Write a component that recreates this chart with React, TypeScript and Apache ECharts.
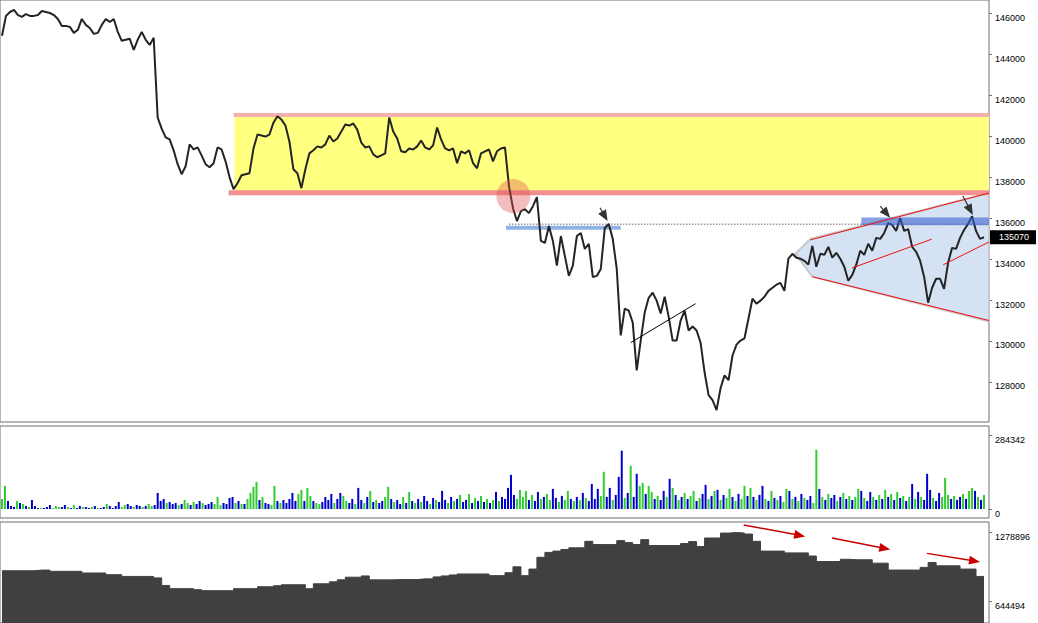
import React, { useEffect, useRef } from "react";
import * as echarts from "echarts";

// ---------- data ----------
const priceTicks = [128000, 130000, 132000, 134000, 136000, 138000, 140000, 142000, 144000, 146000];
const volumeTicks = [0, 284342];
const oiTicks = [644494, 1278896];
const lastPrice = 135070;

// price, one value per bar step (4 px apart in the reference)
const prices = [
  144920, 145890, 146080, 146180, 145930, 145840, 145980, 145890, 145890, 145930,
  146130, 146080, 146030, 145930, 145740, 145400, 145400, 145350, 145060, 145210,
  145740, 145450, 145300, 145010, 145060, 145450, 145740, 145590, 145740, 145110,
  144670, 144720, 144770, 144230, 144720, 145110, 144720, 144470, 144820, 140920,
  140380, 139950, 139850, 139320, 138640, 138150, 138540, 139610, 139360, 139460,
  139070, 138640, 138490, 138690, 139460, 139360, 138780, 138010, 137420, 137710,
  138100, 138150, 138200, 139410, 140090, 140040, 139990, 140090, 140670, 140980,
  140820, 140530, 139750, 138390, 138200, 137470, 138390, 139170, 139320, 139510,
  139460, 139610, 140040, 139750, 139900, 140240, 140580, 140530, 140630, 140330,
  139700, 139460, 139510, 139120, 138980, 139070, 139170, 140920, 140240, 139900,
  139270, 139220, 139410, 139360, 139510, 139800, 139460, 139360, 139560, 140430,
  139850, 139410, 139320, 139410, 138690, 139270, 139170, 139320, 138690, 138440,
  139170, 139270, 139360, 138780, 139270, 139410, 139460, 137570, 136490, 135860,
  136350, 136440, 136250, 136590, 137030, 134890, 134790, 135620, 134890, 133680,
  135130, 134160, 133180, 133680, 135130, 135280, 134500, 134750, 133130, 133180,
  133520, 135520, 135720, 134990, 133520, 130270, 131580, 131480, 130900, 128560,
  130020, 131390, 132110, 132360, 131970, 131340, 132160, 131190, 130020, 130020,
  131000, 131480, 130510, 130710, 130510, 129920, 128470, 127350, 127110, 126620,
  127690, 128320, 128080, 129290, 129820, 130020, 130130, 131100, 132070, 131820,
  131970, 132160, 132450, 132600, 132750, 132840, 132450, 134020, 134260, 134070,
  134020, 133920, 133730, 134650, 133630, 134260, 134210, 134600, 134070, 134310,
  134020, 133630, 132940, 133230, 133730, 134410, 134210, 134750, 134410, 135040,
  134990, 135280, 135760, 135670, 135380, 136010, 135380, 135470, 134600, 134360,
  133920, 133130, 131870, 132600, 133040, 133040, 132550, 133820, 134550, 134500,
  135040, 135420, 135720, 136100, 135380, 134990, 135070,
];

// volume, one value per 3 px in the reference
const volumes = [
  39000, 89700, 31200, 11700, 7800, 31200, 23400, 19500, 11700, 7800,
  35100, 11700, 3900, 3900, 3900, 7800, 15600, 3900, 11700, 7800,
  7800, 15600, 7800, 3900, 15600, 3900, 11700, 7800, 7800, 3900,
  7800, 11700, 3900, 3900, 7800, 19500, 11700, 3900, 11700, 27300,
  7800, 15600, 19500, 11700, 7800, 15600, 11700, 7800, 11700, 19500,
  11700, 15600, 62400, 31200, 39000, 23400, 27300, 19500, 23400, 15600,
  19500, 35100, 23400, 15600, 27300, 19500, 31200, 23400, 15600, 19500,
  27300, 19500, 46800, 15600, 23400, 19500, 42900, 46800, 23400, 31200,
  19500, 19500, 39000, 62400, 85800, 105300, 35100, 46800, 23400, 19500,
  15600, 89700, 31200, 23400, 35100, 23400, 39000, 62400, 31200, 58500,
  74100, 31200, 81900, 50700, 31200, 23400, 19500, 27300, 46800, 35100,
  58500, 23400, 39000, 62400, 50700, 31200, 23400, 39000, 19500, 81900,
  35100, 23400, 46800, 70200, 27300, 35100, 23400, 31200, 46800, 85800,
  39000, 27300, 35100, 19500, 46800, 23400, 66300, 31200, 23400, 39000,
  27300, 50700, 31200, 19500, 42900, 35100, 27300, 70200, 35100, 23400,
  46800, 31200, 39000, 54600, 27300, 35100, 58500, 23400, 42900, 31200,
  50700, 27300, 39000, 23400, 35100, 66300, 31200, 46800, 39000, 81900,
  132600, 54600, 39000, 74100, 46800, 70200, 35100, 54600, 31200, 66300,
  39000, 46800, 58500, 35100, 78000, 42900, 27300, 50700, 35100, 70200,
  39000, 31200, 46800, 35100, 62400, 42900, 31200, 97500, 39000, 78000,
  50700, 144300, 46800, 81900, 35100, 54600, 124800, 226200, 42900, 62400,
  167700, 46800, 136500, 89700, 101400, 58500, 89700, 66300, 39000, 50700,
  35100, 70200, 46800, 117000, 81900, 54600, 35100, 46800, 62400, 39000,
  50700, 70200, 31200, 42900, 58500, 93600, 39000, 50700, 70200, 74100,
  35100, 54600, 42900, 78000, 46800, 31200, 58500, 39000, 89700, 50700,
  81900, 46800, 35100, 54600, 89700, 39000, 31200, 70200, 42900, 35100,
  50700, 27300, 78000, 70200, 39000, 46800, 31200, 58500, 42900, 35100,
  50700, 23400, 230100, 78000, 46800, 35100, 58500, 42900, 54600, 31200,
  46800, 62400, 39000, 50700, 35100, 46800, 78000, 70200, 42900, 31200,
  66300, 46800, 35100, 54600, 39000, 74100, 46800, 58500, 35100, 66300,
  42900, 50700, 31200, 46800, 97500, 39000, 66300, 46800, 35100, 136500,
  74100, 42900, 31200, 62400, 46800, 120900, 54600, 39000, 50700, 35100,
  46800, 58500, 39000, 70200, 81900, 70200, 46800, 35100, 54600,
];

// g = up bar (green), b = down bar (blue)
const volumeDirs = [
  "ggbbbgbgbg", "bbbgbbbggg", "bbgbgbbgbb", "gbgbbgbbbb", "ggbbgbbgbg",
  "gbbbbgbbbg", "bggbgbbgbb", "bgggbbbbgb", "gbggggbgbb", "ggbgbbbbbg",
  "gbggbggbbb", "bgbbggbbgb", "bgbgbgbbgg", "bgbbgbgbgb", "gbbgbgbbbg",
  "bgbgbbgbgb", "gbgbgbgbbb", "bbggggbgbb", "gbggbbgbgg", "bgbgbgbbbb",
  "ggbbgbbbgb", "gbbggbggbg", "bbgbgbgbgb", "ggbgbbgbgb", "gbggbgbggb",
  "gbgbbgbgbg", "bggbgbgbgb", "bggbgbgbbg", "bgbgbggbgb", "bgbgbgbgbg",
  "bgbgbgbgbb", "bgbbgggbgb", "bgbggbgbg",
].join("");

// open interest, one value per 8 px in the reference
const openInterest = [
  928440, 928440, 928440, 928440, 934730, 934730, 923050, 923050, 923050, 923050,
  907780, 907780, 907780, 892500, 892500, 876330, 876330, 876330, 876330, 862850,
  793650, 763990, 763990, 763990, 755010, 746020, 746020, 746020, 746020, 763990,
  763990, 763990, 781970, 781970, 790960, 799950, 799950, 799950, 763990, 808940,
  808940, 826900, 844880, 869140, 869140, 880820, 844880, 844880, 844880, 847570,
  847570, 847570, 853870, 853870, 871830, 880820, 889800, 898790, 898790, 898790,
  898790, 883510, 883510, 910470, 964390, 883510, 943720, 1051550, 1096480, 1108160,
  1123440, 1138720, 1138720, 1198020, 1168370, 1168370, 1168370, 1204310, 1186340, 1168370,
  1213300, 1159380, 1159380, 1159380, 1159380, 1177350, 1195330, 1150400, 1228570, 1228570,
  1273500, 1278900, 1273500, 1264520, 1198020, 1108160, 1108160, 1108160, 1092000, 1092000,
  1092000, 1063230, 1012910, 1012910, 1012910, 1033580, 1029090, 1029090, 1029090, 997640,
  997640, 934730, 934730, 934730, 934730, 959000, 1003930, 973370, 973370, 973370,
  943720, 943720, 876330, 876330,
];

// ---------- drawn annotations, in data space (price-bar index, price) ----------
const rangeZone = [[58.25, 141040], [247.25, 141040], [247.25, 137240], [58.25, 137240]];
const rangeTopLine = [[58, 141040], [247.25, 141040]];
const rangeBottomLine = [[56.75, 137240], [247.25, 137240]];
const wedge = [[202.5, 134990], [198.75, 134260], [203, 133140], [247.25, 130950], [247.25, 137230]];
const supportBar = [[126.25, 135530], [155, 135530]];
const dottedLevel = [[127, 135700], [247.25, 135700]];
const resistBox = [[215.25, 136030], [247.25, 136030], [247.25, 135660], [215.25, 135660]];
const wedgeUpper = [[202.5, 134940], [247.25, 137230]];
const wedgeLower = [[203, 133140], [247.25, 131000]];
const trendMid = [[212.9, 133565], [232.9, 134975]];
const trendRight = [[235.8, 133725], [247.25, 134840]];
const trendBlack = [[157.5, 129920], [173.75, 131820]];
const breakCircle = [[128.1, 137080]];
const grayArrows = [
  [[149.8, 136513], [151.7, 135866]],
  [[220, 136596], [222.5, 136027]],
  [[240.7, 137082], [243.2, 136158]],
];
const lastPriceAnchor = [[247.25, lastPrice]];
// in open-interest space (OI index, OI value)
const redArrows = [
  [[92.9, 1348090], [100.6, 1242950]],
  [[103.96, 1228570], [111.25, 1123440]],
  [[115.84, 1087490], [122.5, 1009320]],
];

const FONT = "'Liberation Sans', Arial, sans-serif";
const BORDER = "#6e6e6e";

type Shape = { kind: string; pts: number[][]; style: any; r?: number; head?: number[]; text?: string };

const underShapes: Shape[] = [
  { kind: "poly", pts: rangeZone, style: { fill: "#ffff80" } },
  { kind: "poly", pts: wedge, style: { fill: "#d5e2f3", stroke: "#c8c8c8", lineWidth: 2 } },
  { kind: "line", pts: rangeTopLine, style: { stroke: "#f4b0b0", lineWidth: 4 } },
  { kind: "line", pts: rangeBottomLine, style: { stroke: "#f09090", lineWidth: 5 } },
  { kind: "line", pts: supportBar, style: { stroke: "#8fb4e3", lineWidth: 4 } },
  { kind: "line", pts: dottedLevel, style: { stroke: "#999999", lineWidth: 1.5, lineDash: [1.5, 1.5] } },
];

const overShapes: Shape[] = [
  { kind: "poly", pts: resistBox, style: { fill: "rgba(60,100,210,0.6)" } },
  { kind: "line", pts: wedgeUpper, style: { stroke: "#ee1111", lineWidth: 1 } },
  { kind: "line", pts: wedgeLower, style: { stroke: "#ee1111", lineWidth: 1 } },
  { kind: "line", pts: trendMid, style: { stroke: "#ee1111", lineWidth: 1 } },
  { kind: "line", pts: trendRight, style: { stroke: "#ee1111", lineWidth: 1 } },
  { kind: "line", pts: trendBlack, style: { stroke: "#000000", lineWidth: 1 } },
  { kind: "circle", pts: breakCircle, r: 17, style: { fill: "rgba(225,80,80,0.38)" } },
  ...grayArrows.map((a) => ({ kind: "arrow", pts: a, head: [11, 9], style: { stroke: "#333333", fill: "#333333", lineWidth: 1.2 } })),
  { kind: "label", pts: lastPriceAnchor, text: String(lastPrice), style: { fill: "#000000" } },
];

const oiShapes: Shape[] = redArrows.map((a) => ({
  kind: "arrow",
  pts: a,
  head: [11, 9],
  style: { stroke: "#c80000", fill: "#c80000", lineWidth: 1.5 },
}));

function shapeRenderer(shapes: Shape[]) {
  return (params: any, api: any) => {
    const s = shapes[params.dataIndex];
    const p = s.pts.map((pt) => api.coord(pt));
    if (s.kind === "poly") {
      return { type: "polygon", silent: true, shape: { points: p }, style: s.style };
    }
    if (s.kind === "line") {
      return {
        type: "line",
        silent: true,
        shape: { x1: p[0][0], y1: p[0][1], x2: p[1][0], y2: p[1][1] },
        style: s.style,
      };
    }
    if (s.kind === "circle") {
      return { type: "circle", silent: true, shape: { cx: p[0][0], cy: p[0][1], r: s.r }, style: s.style };
    }
    if (s.kind === "label") {
      const x = p[0][0];
      const y = p[0][1];
      return {
        type: "group",
        silent: true,
        children: [
          { type: "rect", shape: { x: x + 1, y: y - 7, width: 46, height: 14 }, style: { fill: s.style.fill } },
          {
            type: "text",
            style: {
              text: s.text,
              x: x + 10,
              y: y,
              fill: "#ffffff",
              fontSize: 9,
              fontFamily: FONT,
              verticalAlign: "middle",
              align: "left",
            },
          },
        ],
      };
    }
    const a = p[0];
    const b = p[1];
    const dx = b[0] - a[0];
    const dy = b[1] - a[1];
    const len = Math.hypot(dx, dy) || 1;
    const ux = dx / len;
    const uy = dy / len;
    const L = s.head![0];
    const W = s.head![1];
    const bx = b[0] - ux * L;
    const by = b[1] - uy * L;
    const nx = -uy;
    const ny = ux;
    return {
      type: "group",
      silent: true,
      children: [
        {
          type: "line",
          shape: { x1: a[0], y1: a[1], x2: bx + ux, y2: by + uy },
          style: { stroke: s.style.stroke, lineWidth: s.style.lineWidth },
        },
        {
          type: "polygon",
          shape: {
            points: [
              [b[0], b[1]],
              [bx + (nx * W) / 2, by + (ny * W) / 2],
              [bx - (nx * W) / 2, by - (ny * W) / 2],
            ],
          },
          style: { fill: s.style.fill },
        },
      ],
    };
  };
}

function yAxisFor(gridIndex: number, min: number, max: number, ticks: number[]) {
  return {
    gridIndex,
    type: "value",
    position: "right",
    min,
    max,
    splitLine: { show: false },
    axisLine: { show: false, onZero: false },
    axisTick: { show: true, length: 3, customValues: ticks, lineStyle: { color: BORDER } },
    axisLabel: {
      customValues: ticks,
      formatter: (v: number) => String(v),
      verticalAlign: "top",
      margin: 6,
      fontSize: 9,
      fontFamily: FONT,
      color: "#000",
    },
  };
}

export default function App() {
  const ref = useRef<HTMLDivElement>(null);

  useEffect(() => {
    if (!ref.current) return;
    const chart = echarts.init(ref.current, undefined, { renderer: "svg" });

    const gridBase = { left: -2, right: 49, show: true, borderColor: BORDER, borderWidth: 1, backgroundColor: "transparent" };

    const option: any = {
      animation: false,
      backgroundColor: "#ffffff",
      grid: [
        { ...gridBase, top: -2, height: 424 },
        { ...gridBase, top: 426, height: 92 },
        { ...gridBase, top: 522, height: 103 },
      ],
      xAxis: [
        { gridIndex: 0, type: "value", min: -0.5, max: 247.25, show: false, axisLine: { onZero: false } },
        { gridIndex: 1, type: "value", min: -2 / 3, max: 989 / 3, show: false, axisLine: { onZero: false } },
        { gridIndex: 2, type: "value", min: -0.25, max: 123.625, show: false, axisLine: { onZero: false } },
      ],
      yAxis: [
        yAxisFor(0, 126039, 146666, priceTicks),
        yAxisFor(1, -34910, 322000, volumeTicks),
        yAxisFor(2, 449500, 1375050, oiTicks),
      ],
      series: [
        {
          type: "custom",
          name: "zones",
          xAxisIndex: 0,
          yAxisIndex: 0,
          z: 1,
          clip: false,
          silent: true,
          renderItem: shapeRenderer(underShapes),
          data: underShapes.map((s) => [s.pts[0][0], s.pts[0][1]]),
        },
        {
          type: "line",
          name: "price",
          xAxisIndex: 0,
          yAxisIndex: 0,
          z: 2,
          showSymbol: false,
          silent: true,
          lineStyle: { color: "#242424", width: 2 },
          data: prices.map((v, i) => [i, v]),
        },
        {
          type: "custom",
          name: "drawings",
          xAxisIndex: 0,
          yAxisIndex: 0,
          z: 3,
          clip: false,
          silent: true,
          renderItem: shapeRenderer(overShapes),
          data: overShapes.map((s) => [s.pts[0][0], s.pts[0][1]]),
        },
        {
          type: "bar",
          name: "volume",
          xAxisIndex: 1,
          yAxisIndex: 1,
          barWidth: 2,
          silent: true,
          data: volumes.map((v, i) => ({
            value: [i, v],
            itemStyle: { color: volumeDirs[i] === "g" ? "#32cd32" : "#0000cd" },
          })),
        },
        {
          type: "line",
          name: "open interest",
          xAxisIndex: 2,
          yAxisIndex: 2,
          step: "end",
          showSymbol: false,
          silent: true,
          lineStyle: { color: "#404040", width: 1 },
          areaStyle: { color: "#404040", opacity: 1, origin: "start" },
          data: openInterest.map((v, i) => [i, v]),
        },
        {
          type: "custom",
          name: "oi arrows",
          xAxisIndex: 2,
          yAxisIndex: 2,
          z: 5,
          clip: false,
          silent: true,
          renderItem: shapeRenderer(oiShapes),
          data: oiShapes.map((s) => [s.pts[0][0], s.pts[0][1]]),
        },
      ],
    };

    chart.setOption(option);
    return () => chart.dispose();
  }, []);

  return (
    <div
      ref={ref}
      style={{ position: "absolute", left: 0, top: 0, width: 1038, height: 623, background: "#fff" }}
    />
  );
}
